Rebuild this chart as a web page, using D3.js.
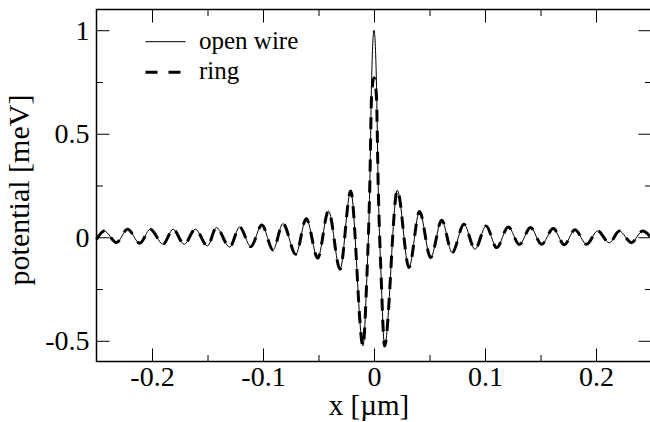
<!DOCTYPE html>
<html>
<head>
<meta charset="utf-8">
<script src="https://cdn.jsdelivr.net/npm/d3@7"></script>
<style>
  html, body { margin: 0; padding: 0; background: #fff; }
  svg { display: block; }
</style>
</head>
<body>
<svg id="chart" width="650" height="422"></svg>
<script>
// ---- data (x in micrometres, potential in meV) ----
const xValues = [
  -0.25, -0.243, -0.232, -0.222, -0.211, -0.2015, -0.19, -0.181, -0.171, -0.161,
  -0.15, -0.142, -0.13, -0.121, -0.111, -0.101, -0.091, -0.082, -0.0705, -0.061,
  -0.0507, -0.041, -0.0306, -0.021, -0.0099, -0.0065, -0.0037, -0.0022, 0,
  0.0022, 0.0037, 0.0065, 0.0095, 0.021, 0.0315, 0.041, 0.051, 0.061, 0.0705,
  0.081, 0.091, 0.101, 0.1105, 0.121, 0.131, 0.141, 0.151, 0.1615, 0.1714,
  0.181, 0.1916, 0.2015, 0.212, 0.221, 0.232, 0.242, 0.25
];
const openWire = [
  -0.01, 0.03, -0.026, 0.039, -0.029, 0.039, -0.034, 0.039, -0.034, 0.039,
  -0.042, 0.047, -0.048, 0.05, -0.045, 0.059, -0.061, 0.066, -0.082, 0.09,
  -0.101, 0.127, -0.154, 0.223, -0.525, -0.2, 0.27, 0.75, 1.0,
  0.75, 0.27, -0.2, -0.525, 0.227, -0.146, 0.124, -0.098, 0.082, -0.074,
  0.063, -0.058, 0.055, -0.05, 0.05, -0.035, 0.047, -0.034, 0.042, -0.036,
  0.036, -0.034, 0.031, -0.027, 0.03, -0.026, 0.03, -0.005
];
const ring = [
  -0.01, 0.03, -0.026, 0.039, -0.029, 0.039, -0.034, 0.039, -0.034, 0.039,
  -0.042, 0.047, -0.048, 0.05, -0.045, 0.059, -0.061, 0.066, -0.082, 0.09,
  -0.101, 0.127, -0.154, 0.223, -0.525, -0.2, 0.27, 0.68, 0.77,
  0.68, 0.27, -0.2, -0.525, 0.227, -0.146, 0.124, -0.098, 0.082, -0.074,
  0.063, -0.058, 0.055, -0.05, 0.05, -0.035, 0.047, -0.034, 0.042, -0.036,
  0.036, -0.034, 0.031, -0.027, 0.03, -0.026, 0.03, -0.005
];

const xMajor = [-0.2, -0.1, 0, 0.1, 0.2];
const xMajorLabels = ["-0.2", "-0.1", "0", "0.1", "0.2"];
const xMinor = [-0.15, -0.05, 0.05, 0.15];
const yMajor = [-0.5, 0, 0.5, 1];
const yMajorLabels = ["-0.5", "0", "0.5", "1"];
const yMinor = [-0.25, 0.25, 0.75];

const legendLabels = ["open wire", "ring"];
const xTitle = "x [\u00b5m]";
const yTitle = "potential [meV]";

// ---- chart ----
const svg = d3.select("#chart");
const plotLeft = 96.5, plotRight = 651.5, plotTop = 9.5, plotBottom = 361.5;
const fontName = "Liberation Serif";

const x = d3.scaleLinear().domain([-0.25, 0.25]).range([plotLeft, plotRight]);
const y = d3.scaleLinear().domain([-0.6, 1.1]).range([plotBottom, plotTop]);

const majorLen = 13, minorLen = 6.5;

function setFont(sel, size) {
  sel.attr("font-family", fontName)
    .attr("font-size", size)
    .style("font-family", `"${fontName}", serif`)
    .style("font-size", size + "px");
}

function styleAxis(g) {
  g.attr("font-family", null).attr("font-size", null);
  g.select(".domain").remove();
  g.selectAll("line").attr("stroke", "#000").attr("stroke-width", 1);
  g.selectAll("text").attr("fill", "#000");
}

// bottom
svg.append("g")
  .attr("transform", `translate(0,${plotBottom})`)
  .call(d3.axisBottom(x).tickValues(xMajor).tickSize(-majorLen).tickPadding(5)
    .tickFormat((d, i) => xMajorLabels[i]))
  .call(styleAxis)
  .call((g) => g.selectAll("text").attr("y", 5).call(setFont, 28));
svg.append("g")
  .attr("transform", `translate(0,${plotBottom})`)
  .call(d3.axisBottom(x).tickValues(xMinor).tickSize(-minorLen).tickFormat(""))
  .call(styleAxis);
// top
svg.append("g")
  .attr("transform", `translate(0,${plotTop})`)
  .call(d3.axisTop(x).tickValues(xMajor).tickSize(-majorLen).tickFormat(""))
  .call(styleAxis);
svg.append("g")
  .attr("transform", `translate(0,${plotTop})`)
  .call(d3.axisTop(x).tickValues(xMinor).tickSize(-minorLen).tickFormat(""))
  .call(styleAxis);
// left
svg.append("g")
  .attr("transform", `translate(${plotLeft},0)`)
  .call(d3.axisLeft(y).tickValues(yMajor).tickSize(-majorLen).tickPadding(7)
    .tickFormat((d, i) => yMajorLabels[i]))
  .call(styleAxis)
  .call((g) => g.selectAll("text").attr("x", -7).call(setFont, 28));
svg.append("g")
  .attr("transform", `translate(${plotLeft},0)`)
  .call(d3.axisLeft(y).tickValues(yMinor).tickSize(-minorLen).tickFormat(""))
  .call(styleAxis);
// right
svg.append("g")
  .attr("transform", `translate(${plotRight},0)`)
  .call(d3.axisRight(y).tickValues(yMajor).tickSize(-majorLen).tickFormat(""))
  .call(styleAxis);
svg.append("g")
  .attr("transform", `translate(${plotRight},0)`)
  .call(d3.axisRight(y).tickValues(yMinor).tickSize(-minorLen).tickFormat(""))
  .call(styleAxis);

// frame
svg.append("rect")
  .attr("x", plotLeft).attr("y", plotTop)
  .attr("width", plotRight - plotLeft).attr("height", plotBottom - plotTop)
  .attr("fill", "none").attr("stroke", "#000").attr("stroke-width", 1.5);

// curves
const line = d3.line()
  .x((d) => x(d[0]))
  .y((d) => y(d[1]))
  .curve(d3.curveMonotoneX);

const plot = svg.append("g");
plot.append("path")
  .datum(xValues.map((v, i) => [v, ring[i]]))
  .attr("fill", "none")
  .attr("stroke", "#000")
  .attr("stroke-width", 3)
  .attr("stroke-dasharray", "12 9")
  .attr("d", line);
plot.append("path")
  .datum(xValues.map((v, i) => [v, openWire[i]]))
  .attr("fill", "none")
  .attr("stroke", "#000")
  .attr("stroke-width", 1)
  .attr("d", line);

// legend
const legend = svg.append("g");
legend.append("line")
  .attr("x1", 145.5).attr("x2", 185.5).attr("y1", 41.7).attr("y2", 41.7)
  .attr("stroke", "#000").attr("stroke-width", 1);
legend.append("line")
  .attr("x1", 145.5).attr("x2", 185.5).attr("y1", 72.3).attr("y2", 72.3)
  .attr("stroke", "#000").attr("stroke-width", 3).attr("stroke-dasharray", "12 11");
legend.selectAll("text.lg")
  .data(legendLabels)
  .join("text")
  .attr("class", "lg")
  .attr("x", 199)
  .attr("y", (d, i) => 48.5 + i * 30)
  .call(setFont, 25)
  .text((d) => d);

// axis titles
svg.append("text")
  .attr("x", (plotLeft + plotRight) / 2 - 5)
  .attr("y", 415)
  .attr("text-anchor", "middle")
  .call(setFont, 29)
  .text(xTitle);
svg.append("text")
  .attr("transform", "translate(29,190) rotate(-90)")
  .attr("text-anchor", "middle")
  .call(setFont, 30)
  .text(yTitle);
</script>
</body>
</html>
